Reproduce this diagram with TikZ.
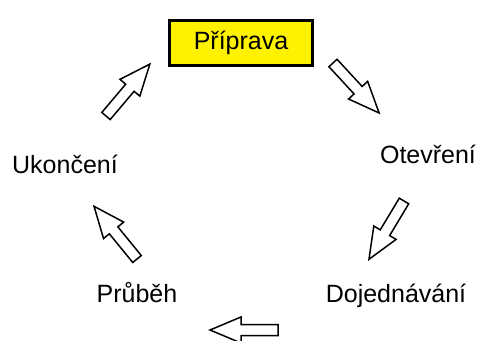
\documentclass[tikz,border=0pt]{standalone}
\usepackage{fontspec}
\setmainfont{Liberation Sans}
\begin{document}
\begin{tikzpicture}[x=1pt,y=1pt,
  lbl/.style={font=\fontsize{25}{30}\selectfont, inner sep=0pt, anchor=base},
  phasebox/.style={draw=black, line width=2.2pt, fill=yellow, inner sep=0pt,
    minimum width=143pt, minimum height=45pt, font=\fontsize{25}{30}\selectfont},
  blockarrow/.pic={
    \draw[line width=1.5pt, line join=miter, fill=white]
      (0,-5.5) -- (37,-5.5) -- (37,-13) -- (68,0) -- (37,13) -- (37,5.5) -- (0,5.5) -- cycle;
  }]
\useasboundingbox (0,0) rectangle (478,340);

% phases
\node[phasebox] (prep) at (241,297) {Příprava};
\node[lbl] (open) at (428,176) {Otevření};
\node[lbl] (deal) at (396,38) {Dojednávání};
\node[lbl] (run) at (137,38) {Průběh};
\node[lbl] (end) at (65,166) {Ukončení};

% cycle arrows
\pic[rotate=-47.3] at (333,277) {blockarrow};
\pic[rotate=-121] at (404,139) {blockarrow};
\pic[rotate=180] at (278,10) {blockarrow};
\pic[rotate=129.2] at (137,81) {blockarrow};
\pic[rotate=49.8] at (106,224) {blockarrow};
\end{tikzpicture}
\end{document}
